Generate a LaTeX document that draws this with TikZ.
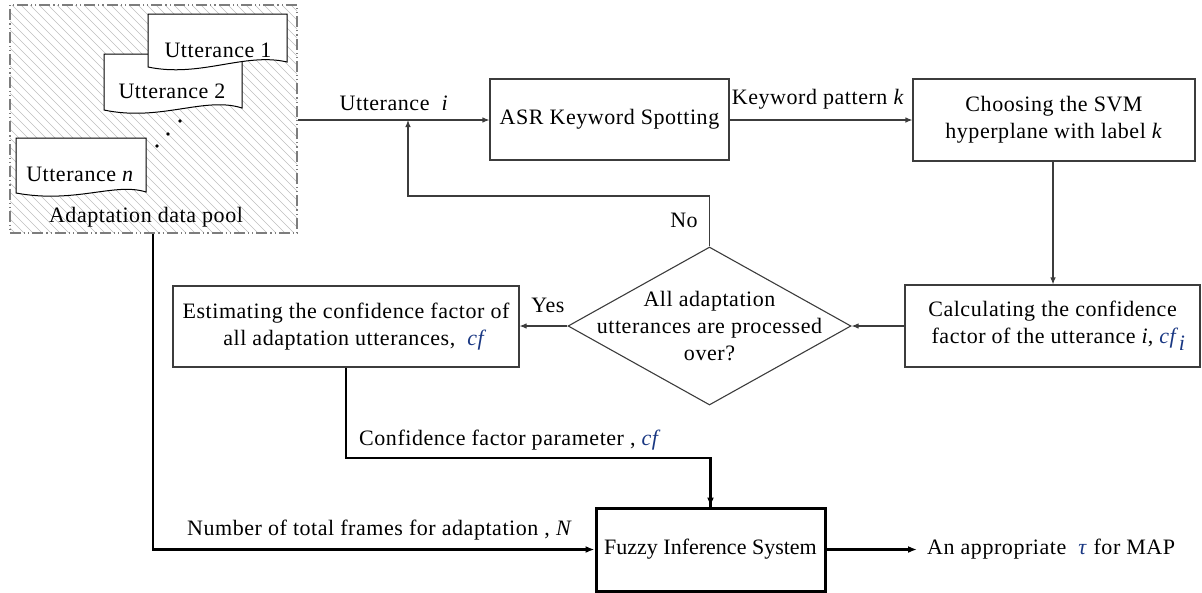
\documentclass[tikz,border=0pt]{standalone}
\usepackage{fontspec}
\setmainfont{Liberation Serif}[LetterSpace=2.5]
\newfontfamily\tnr{Liberation Serif}[LetterSpace=2.5]
\newfontfamily\tnrtight{Liberation Serif}
\usetikzlibrary{arrows.meta,shapes.geometric}
\definecolor{linegray}{RGB}{60,60,60}
\definecolor{poolgray}{RGB}{125,125,125}
\definecolor{hatchgray}{RGB}{190,190,190}
\definecolor{varblue}{RGB}{25,55,130}
\newcommand{\vcf}{\textcolor{varblue}{\textit{cf}}}
\begin{document}
\begin{tikzpicture}[x=1pt,y=-1pt,
  font=\tnr\fontsize{22}{27}\selectfont,
  box/.style={draw=linegray, line width=1.1pt, align=center, inner sep=0pt},
  thinarr/.style={draw=linegray, line width=1.1pt, -{Latex[length=7pt,width=5.5pt]}},
  thinline/.style={draw=linegray, line width=1.1pt},
  thickarr/.style={draw=black, line width=2.2pt, -{Latex[length=9pt,width=7pt]}},
  thickline/.style={draw=black, line width=2.2pt},
  lbl/.style={inner sep=0pt, align=center},
  docshape/.style={draw=black, line width=1pt, fill=white}
]
\useasboundingbox (0,0) rectangle (1202,592);

% ---------- adaptation data pool ----------
\begin{scope}
  \clip (10,5) rectangle (297,233);
  \foreach \k in {-240,-231,...,300} {
    \draw[hatchgray, line width=0.5pt] (\k,5) -- ++(228,228);
  }
\end{scope}
\node[draw=poolgray, line width=2.4pt,
      dash pattern=on 11pt off 3pt on 1.2pt off 3pt on 1.2pt off 3pt,
      minimum width=287pt, minimum height=228pt, inner sep=0pt] (pool) at (153.5,119) {};

% Utterance n
\draw[docshape] (16,138) -- (146,138) -- (146,192)
  .. controls (115,182) and (75,204) .. (16,193) -- cycle;
\node[lbl] (un) at (80,174) {Utterance \textit{n}};
% Utterance 2
\draw[docshape] (104,54) -- (242,54) -- (242,108)
  .. controls (205,96) and (160,122) .. (104,110) -- cycle;
\node[lbl] (u2) at (172,91) {Utterance 2};
% Utterance 1
\draw[docshape] (148,14) -- (287,14) -- (287,62)
  .. controls (245,52) and (200,78) .. (148,67) -- cycle;
\node[lbl] (u1) at (218,50) {Utterance 1};
% dots
\fill (180,121) circle (1.9pt);
\fill (168,134) circle (1.9pt);
\fill (157,146) circle (1.9pt);
\node[lbl] (pooltxt) at (146,217) {Adaptation data pool};

% ---------- process boxes ----------
\node[box, minimum width=239pt, minimum height=81pt] (asr) at (609.5,119.5) {ASR Keyword Spotting};
\node[box, minimum width=282pt, minimum height=82pt] (svm) at (1054,120) {Choosing the SVM\\hyperplane with label \textit{k}};
\node[box, minimum width=295pt, minimum height=82pt] (calc) at (1052.5,326) {Calculating the confidence\\\ \ factor of the utterance \textit{i}, \textcolor{varblue}{\textit{cf}$_{\textit{i}}$}};
\node[box, shape=diamond, minimum width=283pt, minimum height=158pt] (dia) at (709.5,326) {};
\node[lbl] (diatxt) at (dia.center) {All adaptation\\utterances are processed\\over?};
\node[box, minimum width=346pt, minimum height=81pt] (est) at (346,326.5) {Estimating the confidence factor of\\\ \ \ all adaptation utterances,\ \ \vcf};
\node[draw=black, line width=3pt, minimum width=229pt, minimum height=83pt, inner sep=0pt,
      font=\tnrtight\fontsize{22}{27}\selectfont] (fis) at (710.5,549.5) {Fuzzy Inference System};

% ---------- connectors ----------
\coordinate (join) at (408,120);
\draw[thinarr] (pool.east |- 0,120) -- (asr.west |- 0,120);
\draw[thinarr] (asr.east |- 0,120) -- (svm.west |- 0,120);
\draw[thinarr] (svm.south -| 1053,0) -- (calc.north -| 1053,0);
\draw[thinarr] (calc.west) -- (dia.east);
\draw[thinarr] (dia.west) -- (dia.west -| est.east);
\draw[thinarr] (dia.north) -- (709.5,196) -| (join);

\draw[thickarr] (pool.south -| 153,0) |- (fis.west);
\draw[thickline] (est.south) -- (346,458) -| (fis.north);
\draw[thickarr] (fis.north |- 0,480) -- (fis.north);
\coordinate (outend) at (917,549.5);
\draw[thickarr] (fis.east) -- (outend);

% ---------- labels ----------
\node[lbl] (lui) at (394,103) {Utterance\ \ \textit{i}};
\node[lbl] (lkp) at (818,99) {Keyword pattern \textit{k}};
\node[lbl] (lno) at (684,220) {No};
\node[lbl] (lyes) at (548,305) {Yes};
\node[lbl, anchor=west] (lcf) at (359,440) {Confidence factor parameter ,\ \vcf};
\node[lbl, anchor=west] (lN) at (187,530) {Number of total frames for adaptation , \textit{N}};
\node[lbl, anchor=west] (lout) at (927,549) {An appropriate\ \ \textcolor{varblue}{\textit{τ}}\ for MAP};
\end{tikzpicture}
\end{document}
